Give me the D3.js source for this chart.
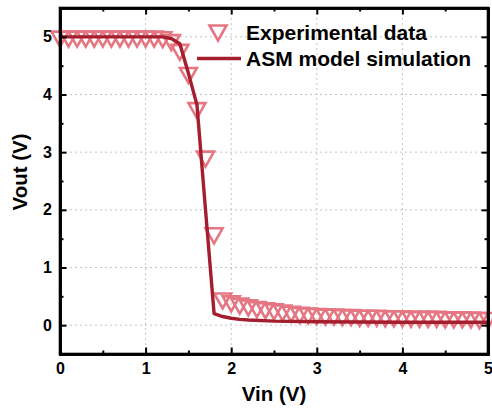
<!DOCTYPE html>
<html><head><meta charset="utf-8">
<script src="https://cdn.jsdelivr.net/npm/d3@7"></script>
<style>body{margin:0;background:#fff}</style>
</head><body>
<svg id="c" width="492" height="411"></svg>
<script>
const expX = [0,0.1,0.2,0.3,0.4,0.5,0.6,0.7,0.8,0.9,1.0,1.1,1.2,1.3,1.4,1.5,1.6,1.7,1.8,1.9,2.0,2.1,2.2,2.3,2.4,2.5,2.6,2.7,2.8,2.9,3.0,3.1,3.2,3.3,3.4,3.5,3.6,3.7,3.8,3.9,4.0,4.1,4.2,4.3,4.4,4.5,4.6,4.7,4.8,4.9,5.0];
const expY = [4.96,4.96,4.96,4.96,4.96,4.96,4.96,4.96,4.96,4.96,4.96,4.96,4.95,4.9,4.73,4.33,3.72,2.88,1.55,0.42,0.37,0.33,0.3,0.27,0.25,0.23,0.21,0.19,0.17,0.16,0.15,0.14,0.14,0.13,0.13,0.12,0.12,0.12,0.11,0.11,0.11,0.1,0.1,0.1,0.1,0.09,0.09,0.09,0.09,0.08,0.08];
const simX = [0,0.5,1.0,1.2,1.3,1.4,1.5,1.6,1.7,1.8,1.9,2.0,2.1,2.2,2.5,3.0,3.5,4.0,4.5,5.0];
const simY = [5.0,5.0,5.0,5.0,4.97,4.88,4.37,3.82,2.0,0.2,0.15,0.12,0.1,0.09,0.07,0.06,0.055,0.05,0.05,0.05];
const xTicks = [0,1,2,3,4,5];
const yTicks = [0,1,2,3,4,5];
const xMinor = [0.5,1.5,2.5,3.5,4.5];
const yMinor = [-0.5,0.5,1.5,2.5,3.5,4.5];
const legendLabels = ["Experimental data","ASM model simulation"];
const xTitle = "Vin (V)", yTitle = "Vout (V)";

const svg = d3.select("#c");
const L=60,R=488,T=8,B=354;
const x = d3.scaleLinear().domain([0,5]).range([L,R]);
const y = d3.scaleLinear().domain([-0.5,5.5]).range([B,T]);
const font = "Arial, 'Liberation Sans', sans-serif";
const expCol = "#e57682", simCol = "#a51e2e";

// grid
const g = svg.append("g");
g.selectAll(".gx").data(xTicks.filter(d=>d>0&&d<5)).enter().append("line")
 .attr("x1",d=>x(d)).attr("x2",d=>x(d)).attr("y1",T).attr("y2",B)
 .attr("stroke","#c4c4c4").attr("stroke-width",1).attr("stroke-dasharray","2,3");
g.selectAll(".gy").data(yTicks).enter().append("line")
 .attr("x1",L).attr("x2",R).attr("y1",d=>y(d)).attr("y2",d=>y(d))
 .attr("stroke","#c4c4c4").attr("stroke-width",1).attr("stroke-dasharray","2,3");

const tri = "M-8.5,-7.5L8.5,-7.5L0,7.5Z";
// experimental markers
svg.append("g").selectAll("path").data(expX.map((d,i)=>[d,expY[i]])).enter().append("path")
 .attr("d",tri).attr("transform",d=>`translate(${x(d[0])},${y(d[1])})`)
 .attr("fill","none").attr("stroke",expCol).attr("stroke-width",2.6);
// simulation line
svg.append("path").datum(simX.map((d,i)=>[d,simY[i]]))
 .attr("d",d3.line().x(d=>x(d[0])).y(d=>y(d[1])))
 .attr("fill","none").attr("stroke",simCol).attr("stroke-width",3.4).attr("stroke-linejoin","round");

// axes
const ax = svg.append("g");
ax.append("g").attr("transform",`translate(0,${B})`).call(d3.axisBottom(x).tickValues(xTicks).tickSizeInner(-6.5).tickSizeOuter(0).tickPadding(9).tickFormat(d3.format("d")));
ax.append("g").attr("transform",`translate(0,${T})`).call(d3.axisTop(x).tickValues(xTicks).tickSizeInner(-6.5).tickSizeOuter(0).tickFormat(""));
ax.append("g").attr("transform",`translate(${L},0)`).call(d3.axisLeft(y).tickValues(yTicks).tickSizeInner(-6.5).tickSizeOuter(0).tickPadding(8).tickFormat(d3.format("d")));
ax.append("g").attr("transform",`translate(${R},0)`).call(d3.axisRight(y).tickValues(yTicks).tickSizeInner(-6.5).tickSizeOuter(0).tickFormat(""));
ax.append("g").attr("transform",`translate(0,${B})`).call(d3.axisBottom(x).tickValues(xMinor).tickSize(-3.5).tickFormat(""));
ax.append("g").attr("transform",`translate(0,${T})`).call(d3.axisTop(x).tickValues(xMinor).tickSize(-3.5).tickFormat(""));
ax.append("g").attr("transform",`translate(${L},0)`).call(d3.axisLeft(y).tickValues(yMinor).tickSize(-3.5).tickFormat(""));
ax.append("g").attr("transform",`translate(${R},0)`).call(d3.axisRight(y).tickValues(yMinor).tickSize(-3.5).tickFormat(""));
ax.selectAll(".domain").attr("stroke","#000").attr("stroke-width",2.6);
ax.selectAll(".tick line").attr("stroke","#000").attr("stroke-width",2);
ax.selectAll(".tick text").attr("font-family",font).attr("font-weight","bold").attr("font-size",16).attr("fill","#000");
svg.append("rect").attr("x",L).attr("y",T).attr("width",R-L).attr("height",B-T).attr("fill","none").attr("stroke","#000").attr("stroke-width",2.6);

// titles
svg.append("text").attr("x",(L+R)/2).attr("y",401).attr("text-anchor","middle")
 .attr("font-family",font).attr("font-weight","bold").attr("font-size",20.5).text(xTitle);
svg.append("text").attr("transform",`translate(27,172) rotate(-90)`).attr("text-anchor","middle")
 .attr("font-family",font).attr("font-weight","bold").attr("font-size",20.5).text(yTitle);

// legend
svg.append("path").attr("d",tri).attr("transform","translate(218,33)").attr("fill","none").attr("stroke",expCol).attr("stroke-width",2.6);
svg.append("line").attr("x1",197).attr("x2",241).attr("y1",58.5).attr("y2",58.5).attr("stroke",simCol).attr("stroke-width",3.4);
svg.selectAll(".lg").data(legendLabels).enter().append("text")
 .attr("x",246).attr("y",(d,i)=>39.5+i*26).attr("font-family",font).attr("font-weight","bold").attr("font-size",21).attr("fill","#000").text(d=>d);
</script>
</body></html>
